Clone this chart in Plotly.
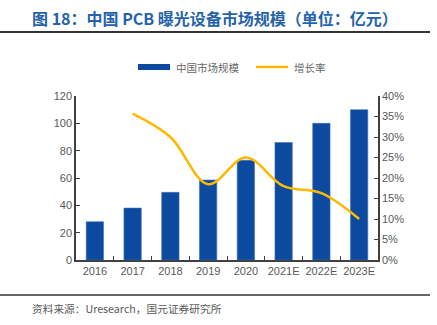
import plotly.graph_objects as go

years = ["2016", "2017", "2018", "2019", "2020", "2021E", "2022E", "2023E"]
market = [28, 38, 49.5, 58.5, 73, 86, 100, 110]
growth_years = ["2017", "2018", "2019", "2020", "2021E", "2022E", "2023E"]
growth = [0.357, 0.30, 0.185, 0.25, 0.18, 0.163, 0.10]

W, H = 437, 325
L, R, T, B = 76, 59, 96, 65
PW, PH = W - L - R, H - T - B

def px(x):
    return (x - L) / PW

def py(y):
    return (H - B - y) / PH

BAR_COLOR = "#0B4A9F"
LINE_COLOR = "#FFB800"

fig = go.Figure()
fig.add_trace(go.Bar(x=years, y=market, name="中国市场规模",
                     marker=dict(color=BAR_COLOR, line=dict(color="#3F74C0", width=0.6)),
                     width=0.46, showlegend=False))
fig.add_trace(go.Scatter(x=growth_years, y=growth, name="增长率", yaxis="y2", mode="lines",
                         line=dict(color=LINE_COLOR, width=2.5, shape="spline", smoothing=1.0),
                         showlegend=False))

tickfont = dict(family="Liberation Sans, Arial", size=11, color="#595959")
legfont = dict(family="Noto Sans CJK SC", size=10.5, color="#666666")
fig.update_layout(
    width=W, height=H, margin=dict(l=L, r=R, t=T, b=B),
    paper_bgcolor="white", plot_bgcolor="white",
    showlegend=False,
    bargap=0.5,
    xaxis=dict(type="category", showline=True, linecolor="#404040", linewidth=1.5, ticks="inside", ticklen=4,
               tickson="boundaries", tickcolor="#404040", tickfont=tickfont, showgrid=False, tickangle=0),
    yaxis=dict(range=[0, 120], dtick=20, showline=True, linecolor="#404040", linewidth=1.5, ticks="inside", ticklen=4,
               tickcolor="#404040", tickfont=tickfont, showgrid=False, zeroline=False),
    yaxis2=dict(range=[0, 0.4], dtick=0.05, tickformat=".0%", overlaying="y", side="right", showline=True,
                linecolor="#404040", linewidth=1.5, ticks="inside", ticklen=4, tickcolor="#404040",
                tickfont=tickfont, showgrid=False, zeroline=False),
    annotations=[
        dict(text="<b>图 18：中国 PCB 曝光设备市场规模（单位：亿元）</b>", xref="paper", yref="paper",
             x=px(30), xanchor="left", y=py(18), yanchor="middle", showarrow=False,
             font=dict(family="Noto Sans CJK SC", size=16, color="#2563A8")),
        dict(text="资料来源：Uresearch，国元证券研究所", xref="paper", yref="paper",
             x=px(30), xanchor="left", y=py(308), yanchor="middle", showarrow=False,
             font=dict(family="Noto Sans CJK SC", size=10.7, color="#595959")),
        dict(text="中国市场规模", xref="paper", yref="paper", x=px(174), xanchor="left", y=py(67),
             yanchor="middle", showarrow=False, font=legfont),
        dict(text="增长率", xref="paper", yref="paper", x=px(292), xanchor="left", y=py(67),
             yanchor="middle", showarrow=False, font=legfont),
    ],
    shapes=[
        dict(type="line", xref="paper", yref="paper", x0=px(0), x1=px(430),
             y0=py(32), y1=py(32), line=dict(color="#333333", width=2)),
        dict(type="line", xref="paper", yref="paper", x0=px(0), x1=px(430),
             y0=py(295), y1=py(295), line=dict(color="#333333", width=1.5)),
        dict(type="rect", xref="paper", yref="paper", x0=px(138), x1=px(170), y0=py(70), y1=py(64),
             fillcolor=BAR_COLOR, line=dict(width=0)),
        dict(type="line", xref="paper", yref="paper", x0=px(256), x1=px(288), y0=py(67), y1=py(67),
             line=dict(color=LINE_COLOR, width=2.5)),
    ],
)

fig.write_html("out.html")
